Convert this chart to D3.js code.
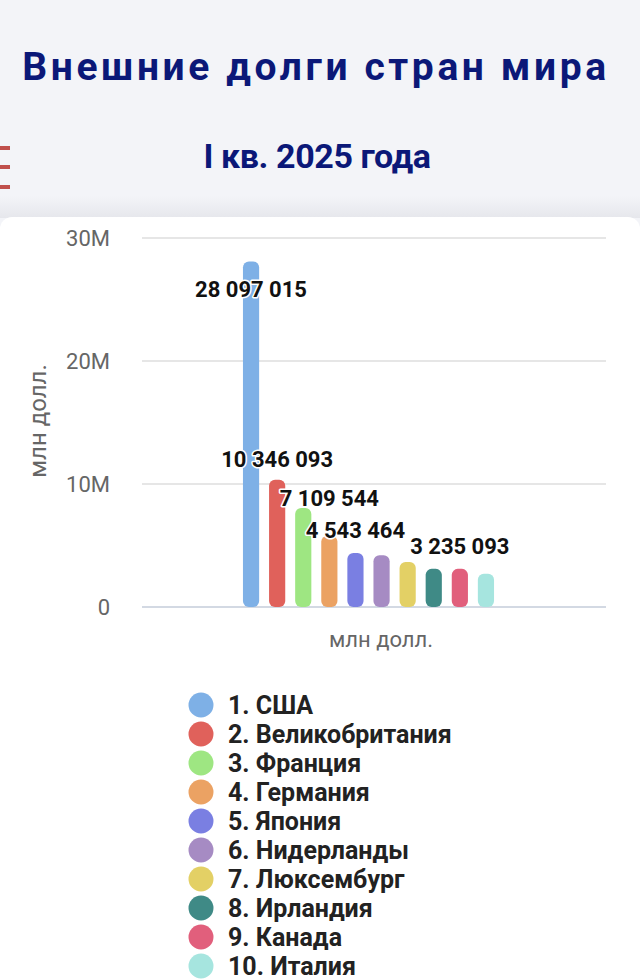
<!DOCTYPE html>
<html>
<head>
    <meta charset="utf-8">
    <title>Внешние долги стран мира</title>
    <script src="https://d3js.org/d3.v7.min.js"></script>
    <style>
        body { margin: 0; background: #f3f4f8; }
        svg { display: block; font-family: Roboto, "Noto Sans", sans-serif; }
    </style>
</head>
<body>
<svg id="chart" width="640" height="979"></svg>
<script>
    // data
    const countries = ["1. США", "2. Великобритания", "3. Франция", "4. Германия", "5. Япония",
                       "6. Нидерланды", "7. Люксембург", "8. Ирландия", "9. Канада", "10. Италия"];
    const debts = [28097015, 10346093, 8050000, 5800000, 4400000, 4200000, 3660000, 3100000, 3100000, 2700000];
    const colors = ["#7eb0e6", "#e0615b", "#9ee682", "#eba263", "#7a7fe2", "#a68bc3",
                    "#e3d065", "#3f8a86", "#e15f7c", "#a6e5df"];
    // value labels shown on the chart (bar index + text)
    const labelBars = [0, 1, 3, 4, 8];
    const labelValues = [28097015, 10346093, 7109544, 4543464, 3235093];
    const yTicks = [0, 10000000, 20000000, 30000000];

    const svg = d3.select("#chart");

    // header
    svg.append("text")
        .attr("x", 316).attr("y", 80)
        .attr("text-anchor", "middle")
        .attr("font-size", 39).attr("font-weight", 700)
        .attr("letter-spacing", 3.6)
        .attr("fill", "#0b1878")
        .text("Внешние долги стран мира");

    svg.append("text")
        .attr("x", 317).attr("y", 168)
        .attr("text-anchor", "middle")
        .attr("font-size", 34).attr("font-weight", 700)
        .attr("letter-spacing", -0.4)
        .attr("fill", "#0b1878")
        .text("I кв. 2025 года");

    // little red dashes at left edge
    [148, 167, 187].forEach(y => {
        svg.append("rect").attr("x", 0).attr("y", y - 2).attr("width", 10).attr("height", 4)
            .attr("fill", "#c0504d");
    });

    // card
    const grad = svg.append("defs").append("linearGradient")
        .attr("id", "shade").attr("x1", 0).attr("x2", 0).attr("y1", 0).attr("y2", 1);
    grad.append("stop").attr("offset", 0).attr("stop-color", "#f3f4f8");
    grad.append("stop").attr("offset", 1).attr("stop-color", "#e6e7ec");
    svg.append("rect").attr("x", 0).attr("y", 196).attr("width", 640).attr("height", 22)
        .attr("fill", "url(#shade)");
    svg.append("rect").attr("x", 0).attr("y", 217).attr("width", 640).attr("height", 800)
        .attr("rx", 12).attr("fill", "#ffffff");

    // scales
    const y = d3.scaleLinear().domain([0, 30000000]).range([607, 238]);
    const x = d3.scaleBand().domain(countries).range([238, 499])
        .paddingInner(0.38).paddingOuter(0.19);

    // grid
    svg.append("g").selectAll("line").data(yTicks).join("line")
        .attr("x1", 142).attr("x2", 606)
        .attr("y1", d => y(d)).attr("y2", d => y(d))
        .attr("stroke", d => d === 0 ? "#d3d9e3" : "#e6e6e6")
        .attr("stroke-width", 2);

    svg.append("g").selectAll("text").data(yTicks).join("text")
        .attr("x", 110).attr("y", d => y(d))
        .attr("dy", "0.36em")
        .attr("text-anchor", "end")
        .attr("font-size", 22).attr("fill", "#666")
        .text(d => d === 0 ? "0" : d3.format("~s")(d));

    svg.append("text")
        .attr("transform", "translate(46,421) rotate(-90)")
        .attr("text-anchor", "middle")
        .attr("font-size", 24).attr("fill", "#666")
        .text("млн долл.");

    svg.append("text")
        .attr("x", 381).attr("y", 647)
        .attr("text-anchor", "middle")
        .attr("font-size", 22).attr("fill", "#666")
        .text("млн долл.");

    // bars
    svg.append("g").selectAll("rect").data(countries).join("rect")
        .attr("x", d => x(d))
        .attr("y", (d, i) => y(debts[i]))
        .attr("width", x.bandwidth())
        .attr("height", (d, i) => y(0) - y(debts[i]))
        .attr("rx", 6)
        .attr("fill", (d, i) => colors[i]);

    // value labels
    const fmt = v => d3.format(",")(v).replace(/,/g, " ");
    svg.append("g").selectAll("text").data(labelBars).join("text")
        .attr("x", (d, i) => x(countries[d]) + x.bandwidth() / 2)
        .attr("y", (d, i) => {
            const top = y(labelValues[i]) - 21;
            return top < 260 ? y(labelValues[i]) + 28 : top;
        })
        .attr("dy", "0.36em")
        .attr("text-anchor", "middle")
        .attr("font-size", 22).attr("font-weight", 700)
        .attr("fill", "#111")
        .attr("stroke", "#fff").attr("stroke-width", 3)
        .attr("stroke-linejoin", "round")
        .attr("paint-order", "stroke")
        .text((d, i) => fmt(labelValues[i]));

    // legend
    const legend = svg.append("g").selectAll("g").data(countries).join("g")
        .attr("transform", (d, i) => `translate(201,${705 + i * 29})`);
    legend.append("circle").attr("r", 12.5).attr("fill", (d, i) => colors[i]);
    legend.append("text")
        .attr("x", 27).attr("dy", "0.36em")
        .attr("font-size", 25).attr("font-weight", 700)
        .attr("fill", "#222")
        .text(d => d);
</script>
</body>
</html>
